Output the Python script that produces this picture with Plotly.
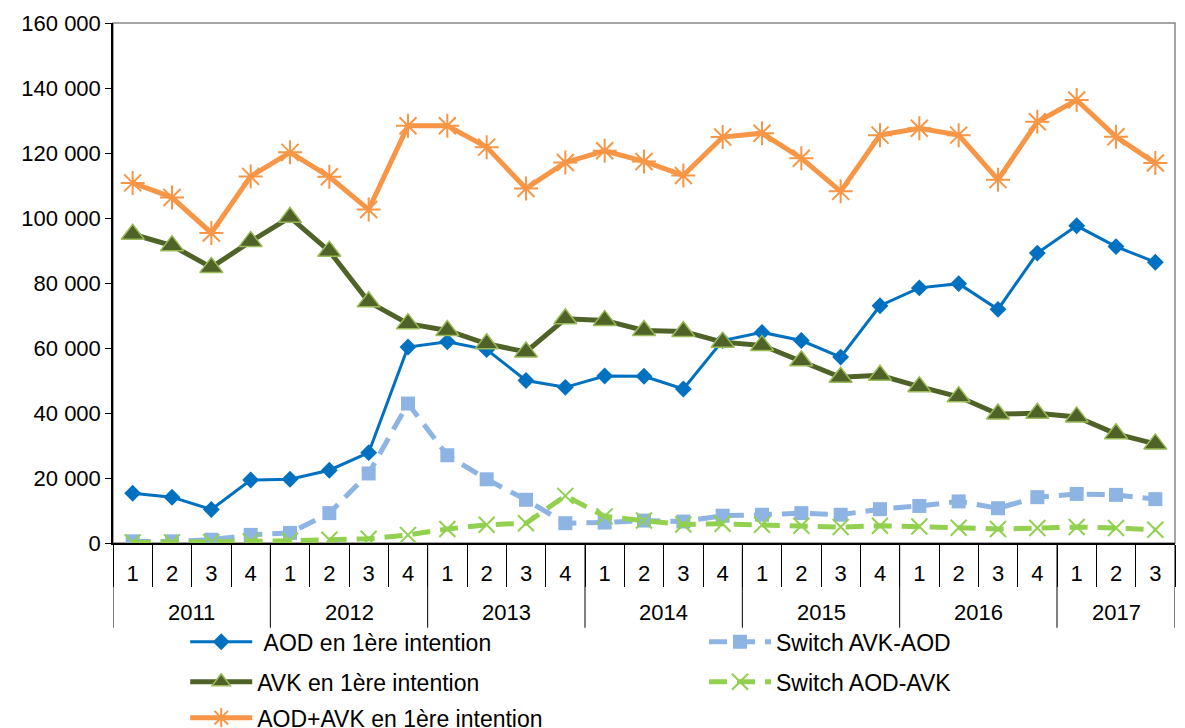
import plotly.graph_objects as go

# quarters 2011 Q1 .. 2017 Q3
years = ["2011"] * 4 + ["2012"] * 4 + ["2013"] * 4 + ["2014"] * 4 + ["2015"] * 4 + ["2016"] * 4 + ["2017"] * 3
quarters = ["1", "2", "3", "4"] * 6 + ["1", "2", "3"]

aod = [15300, 14100, 10300, 19400, 19600, 22400, 27800, 60300, 61900, 59500, 50000, 47900,
       51400, 51300, 47400, 62300, 64800, 62300, 57200, 73000, 78500, 79800, 71900, 89200,
       97600, 91200, 86400]
switch_avk_aod = [500, 500, 1000, 2500, 3100, 9200, 21400, 42900, 27000, 19600, 13300, 6100,
                  6300, 6900, 6600, 8400, 8700, 9200, 8700, 10400, 11400, 12800, 10700, 14100,
                  15100, 14800, 13500]
avk = [95000, 91500, 84800, 92800, 100200, 89800, 74200, 67500, 65400, 61300, 58800, 69000,
       68500, 65400, 65100, 61800, 60800, 56100, 51000, 51600, 48100, 45000, 39700, 39900,
       38800, 33600, 30500]
switch_aod_avk = [200, 200, 300, 500, 700, 1000, 1300, 2500, 4300, 5600, 6100, 14500,
                  8200, 6900, 5700, 5900, 5600, 5300, 4900, 5300, 5100, 4700, 4300, 4600,
                  4900, 4600, 4100]
total = [110800, 106300, 95400, 112800, 120200, 112700, 102600, 128400, 128400, 121800, 109100, 117100,
         120700, 117400, 113100, 124900, 126100, 118400, 108200, 125500, 127600, 125500, 111800, 129600,
         136300, 125000, 116900]

# one unique category per quarter; the quarter number is shown as tick text
cats = [f"{y}-T{q}" for y, q in zip(years, quarters)]
FONT = "Arial, Liberation Sans, sans-serif"

fig = go.Figure()
fig.add_trace(go.Scatter(
    x=cats, y=aod, name="\u00a0AOD en 1ère intention", mode="lines+markers", legend="legend",
    line=dict(color="#0070C0", width=3),
    marker=dict(symbol="diamond", size=13, color="#0070C0")))
fig.add_trace(go.Scatter(
    x=cats, y=switch_avk_aod, name="Switch AVK-AOD", mode="lines+markers", legend="legend2",
    line=dict(color="#8EB4E3", width=5, dash="18px,10px"),
    marker=dict(symbol="square", size=14, color="#8EB4E3")))
fig.add_trace(go.Scatter(
    x=cats, y=avk, name="AVK en 1ère intention", mode="lines+markers", legend="legend3",
    line=dict(color="#4F6228", width=5),
    marker=dict(symbol="triangle-up", size=20, color="#4F6228",
                line=dict(color="#9BBB59", width=1.5))))
fig.add_trace(go.Scatter(
    x=cats, y=switch_aod_avk, name="Switch AOD-AVK", mode="lines+markers", legend="legend4",
    line=dict(color="#92D050", width=5, dash="18px,10px"),
    marker=dict(symbol="x-thin", size=16, color="#92D050",
                line=dict(color="#92D050", width=2))))
fig.add_trace(go.Scatter(
    x=cats, y=total, name="AOD+AVK en 1ère intention", mode="lines+markers", legend="legend5",
    line=dict(color="#F79646", width=5),
    marker=dict(symbol="asterisk", size=20, color="#F79646",
                line=dict(color="#F79646", width=2))))

# year labels and year dividers below the quarter ticks
year_names = sorted(set(years))
annotations, shapes = [], []
for yr in year_names:
    idx = [i for i, v in enumerate(years) if v == yr]
    annotations.append(dict(x=(idx[0] + idx[-1]) / 2, y=-0.1327, xref="x", yref="paper",
                            text=yr, showarrow=False, yanchor="middle",
                            font=dict(family=FONT, size=22, color="#000")))
    shapes.append(dict(type="line", xref="x", yref="paper", x0=idx[0] - 0.5, x1=idx[0] - 0.5,
                       y0=0, y1=-0.163, line=dict(color="#000", width=1)))
shapes.append(dict(type="line", xref="x", yref="paper", x0=len(cats) - 0.5, x1=len(cats) - 0.5,
                   y0=0, y1=-0.163, line=dict(color="#000", width=1)))
shapes.append(dict(type="rect", xref="paper", yref="paper", x0=0, x1=1, y0=0, y1=1,
                   line=dict(color="#888888", width=1.5), layer="below"))

leg = dict(orientation="h", xanchor="left", yanchor="middle", bgcolor="rgba(0,0,0,0)",
           font=dict(family=FONT, size=23, color="#000"), itemwidth=62)
col1, col2 = 0.068, 0.5565
row1, row2, row3 = -0.190, -0.267, -0.336
fig.update_layout(
    width=1177, height=720,
    margin=dict(l=105, r=10, t=15, b=185, autoexpand=False),
    paper_bgcolor="white", plot_bgcolor="white",
    font=dict(family=FONT, size=22, color="#000"),
    separators=", ",
    showlegend=True,
    legend=dict(leg, x=col1, y=row1),
    legend2=dict(leg, x=col2, y=row1),
    legend3=dict(leg, x=col1, y=row2),
    legend4=dict(leg, x=col2, y=row2),
    legend5=dict(leg, x=col1, y=row3),
    annotations=annotations,
    shapes=shapes,
)
fig.update_yaxes(range=[0, 160000], dtick=20000, tickformat=",d", showgrid=False,
                 showline=True, linecolor="#000", linewidth=1.5,
                 ticks="outside", ticklen=6, tickcolor="#000", zeroline=False,
                 tickfont=dict(size=22))
fig.update_xaxes(type="category", range=[-0.5, len(cats) - 0.5], showgrid=False,
                 tickvals=cats, ticktext=quarters,
                 showline=True, linecolor="#000", linewidth=1.5,
                 ticks="outside", tickson="boundaries", ticklen=42, tickcolor="#000",
                 ticklabelstandoff=10, tickfont=dict(size=22))

fig.write_html("out.html")
